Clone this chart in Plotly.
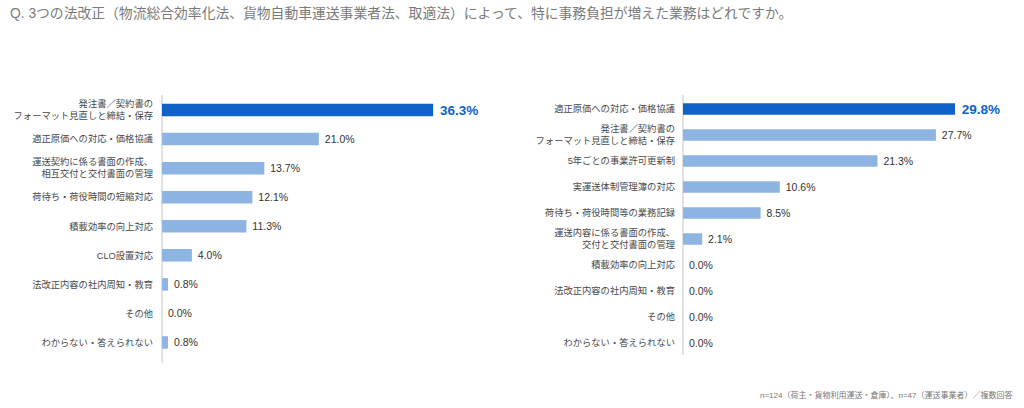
import plotly.graph_objects as go

title_text = "Q. 3つの法改正（物流総合効率化法、貨物自動車運送事業者法、取適法）によって、特に事務負担が増えた業務はどれですか。"
note_text = "n=124（荷主・貨物利用運送・倉庫）、n=47（運送事業者）／複数回答"

left_categories = [
    "発注書／契約書の<br>フォーマット見直しと締結・保存",
    "適正原価への対応・価格協議",
    "運送契約に係る書面の作成、<br>相互交付と交付書面の管理",
    "荷待ち・荷役時間の短縮対応",
    "積載効率の向上対応",
    "CLO設置対応",
    "法改正内容の社内周知・教育",
    "その他",
    "わからない・答えられない",
]
left_values = [36.3, 21.0, 13.7, 12.1, 11.3, 4.0, 0.8, 0.0, 0.8]

right_categories = [
    "適正原価への対応・価格協議",
    "発注書／契約書の<br>フォーマット見直しと締結・保存",
    "5年ごとの事業許可更新制",
    "実運送体制管理簿の対応",
    "荷待ち・荷役時間等の業務記録",
    "運送内容に係る書面の作成、<br>交付と交付書面の管理",
    "積載効率の向上対応",
    "法改正内容の社内周知・教育",
    "その他",
    "わからない・答えられない",
]
right_values = [29.8, 27.7, 21.3, 10.6, 8.5, 2.1, 0.0, 0.0, 0.0, 0.0]

DARK = "#0f62c6"
LIGHT = "#8db4e2"
AXIS = "#d9d9d9"
FONT = "Liberation Sans, 'Noto Sans CJK JP', sans-serif"


def bar_trace(cats, vals, xa, ya, width):
    colors = [DARK if i == 0 else LIGHT for i in range(len(vals))]
    texts = [
        f"\u00a0<b>{v:.1f}%</b>" if i == 0 else f"\u00a0{v:.1f}%" for i, v in enumerate(vals)
    ]
    sizes = [13.5 if i == 0 else 10.5 for i in range(len(vals))]
    tcolors = [DARK if i == 0 else "#333333" for i in range(len(vals))]
    return go.Bar(
        x=vals,
        y=cats,
        orientation="h",
        marker=dict(color=colors, line=dict(width=0)),
        width=width,
        text=texts,
        textposition="outside",
        constraintext="none",
        textfont=dict(size=sizes, color=tcolors, family=FONT),
        outsidetextfont=dict(size=sizes, color=tcolors, family=FONT),
        cliponaxis=False,
        xaxis=xa,
        yaxis=ya,
        hoverinfo="skip",
        showlegend=False,
    )


fig = go.Figure()
fig.add_trace(bar_trace(left_categories, left_values, "x", "y", 0.43))
fig.add_trace(bar_trace(right_categories, right_values, "x2", "y2", 0.45))

W, H = 1024, 408
left_dom = [1 - 357 / H, 1 - 95.5 / H]
right_dom = [1 - 356 / H, 1 - 96 / H]

fig.update_layout(
    width=W,
    height=H,
    margin=dict(l=0, r=0, t=0, b=0),
    paper_bgcolor="white",
    plot_bgcolor="white",
    font=dict(family=FONT, color="#444444"),
    xaxis=dict(
        domain=[162 / W, (162 + 40 * 7.47) / W],
        range=[0, 40],
        visible=False,
    ),
    yaxis=dict(
        domain=left_dom,
        anchor="x",
        autorange="reversed",
        showline=False,
        showgrid=False,
        zeroline=False,
        ticks="",
        ticklabelstandoff=8,
        tickfont=dict(size=9.3, color="#4a4a4a", family=FONT),
    ),
    xaxis2=dict(
        domain=[683 / W, (683 + 33 * 9.13) / W],
        range=[0, 33],
        visible=False,
        anchor="y2",
    ),
    yaxis2=dict(
        domain=right_dom,
        anchor="x2",
        autorange="reversed",
        showline=False,
        showgrid=False,
        zeroline=False,
        ticks="",
        ticklabelstandoff=7,
        tickfont=dict(size=9.3, color="#4a4a4a", family=FONT),
    ),
    shapes=[
        dict(type="line", xref="paper", yref="paper",
             x0=162 / W, x1=162 / W, y0=1 - 95 / H, y1=1 - 363 / H,
             line=dict(color=AXIS, width=1.5), layer="below"),
        dict(type="line", xref="paper", yref="paper",
             x0=683 / W, x1=683 / W, y0=1 - 95 / H, y1=1 - 355 / H,
             line=dict(color=AXIS, width=1.5), layer="below"),
    ],
    annotations=[
        dict(
            text=title_text,
            x=8 / W,
            y=1 - 13 / H,
            xref="paper",
            yref="paper",
            xanchor="left",
            yanchor="middle",
            showarrow=False,
            font=dict(size=13.8, color="#7a7a7a", family=FONT),
        ),
        dict(
            text=note_text,
            x=1015 / W,
            y=1 - 395 / H,
            xref="paper",
            yref="paper",
            xanchor="right",
            yanchor="middle",
            showarrow=False,
            font=dict(size=8, color="#777777", family=FONT),
        ),
    ],
)

fig.write_html("out.html")
